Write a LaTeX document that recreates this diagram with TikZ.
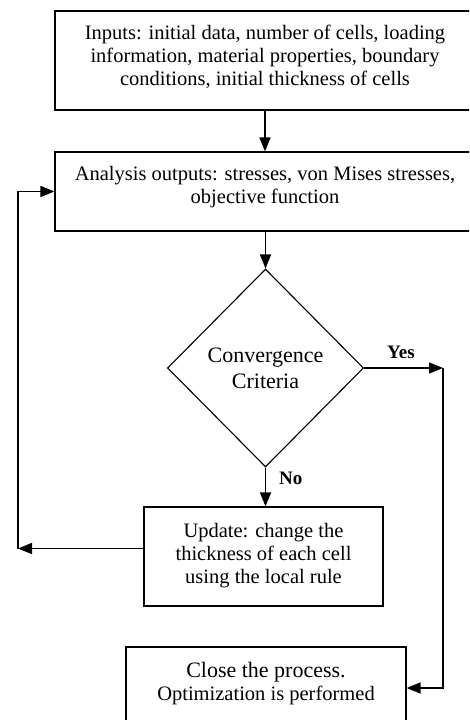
\documentclass[tikz,border=0pt]{standalone}
\usepackage{fontspec}
\setmainfont{Liberation Serif}
\usetikzlibrary{arrows.meta,shapes.geometric}
\begin{document}
\begin{tikzpicture}[x=1pt,y=-1pt,
  boxnode/.style={draw,line width=1.2pt,inner sep=0pt,align=center,font=\fontsize{20.5}{23}\selectfont},
  decnode/.style={draw,diamond,line width=1.1pt,inner sep=0pt,align=center,font=\fontsize{22}{26}\selectfont,minimum width=196pt,minimum height=198pt},
  conn/.style={line width=1.6pt,-{Triangle[length=14pt,width=11pt]}},
  lab/.style={font=\fontsize{19}{22}\selectfont\bfseries,inner sep=0pt,anchor=base west}]
\useasboundingbox (0,0) rectangle (469,720);
\clip (0,0) rectangle (469,720);
\node[boxnode,minimum width=420pt,text height=74pt,text depth=25pt] (inp) at (265,60.5)
  {Inputs: initial data, number of cells, loading\\information, material properties, boundary\\conditions, initial thickness of cells};
\node[boxnode,minimum width=420pt,text height=51pt,text depth=28pt] (ana) at (265,191.5)
  {Analysis outputs: stresses, von Mises stresses,\\objective function};
\node[decnode,text height=45pt,text depth=5pt] (dia) at (265.5,368) {Convergence\\Criteria};
\node[boxnode,minimum width=239pt,text height=76pt,text depth=23pt] (upd) at (263.5,556.5)
  {Update: change the\\thickness of each cell\\using the local rule};
\node[boxnode,minimum width=280pt,text height=53pt,text depth=67pt] (cls) at (266,707)
  {{\fontsize{22}{23}\selectfont Close the process.}\\Optimization is performed};
\node[lab] (yes) at (387,358) {Yes};
\node[lab] (no) at (279,484) {No};
\coordinate (cL) at (18,548.5);
\coordinate (cR) at (443,368);
\coordinate (cR2) at (443,688);
\draw[conn] (inp.south) -- (ana.north);
\draw[conn] (dia.north |- ana.south) -- (dia.north);
\draw[conn] (dia.south) -- (dia.south |- upd.north);
\draw[conn] (upd.west |- cL) -- (cL);
\draw[conn] (cL) |- (ana.west);
\draw[conn] (dia.east) -- (cR);
\draw[conn] (cR) -- (cR2) -- (cR2 -| cls.east);
\end{tikzpicture}
\end{document}
